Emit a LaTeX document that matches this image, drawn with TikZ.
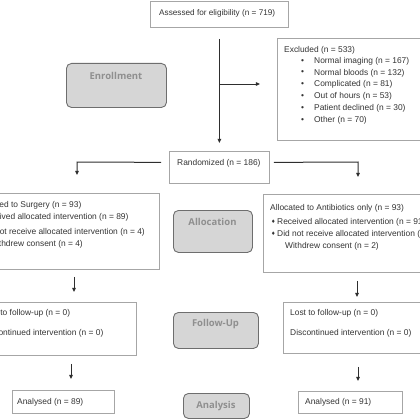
\documentclass[tikz,border=0pt]{standalone}
\usepackage{fontspec}
\setmainfont{Liberation Sans}
\newfontfamily\hdrfont{Open Sans}
\newfontfamily\symfont{DejaVu Sans}
\usetikzlibrary{arrows.meta}
\definecolor{txt}{HTML}{333333}
\definecolor{boxline}{HTML}{A6A6A6}
\definecolor{conn}{HTML}{2E2E2E}
\definecolor{phfill}{HTML}{D6D6D6}
\definecolor{phline}{HTML}{6E6E6E}
\definecolor{phtxt}{HTML}{8F8F8F}
\newcommand{\dmd}{{\symfont\fontsize{5}{5}\selectfont ♦}}
\tikzset{
  box/.style={draw=boxline, line width=0.8pt, inner sep=0pt, anchor=north west},
  phase/.style={draw=phline, fill=phfill, line width=0.9pt, rounded corners=5pt, inner sep=0pt, anchor=north west},
  phlabel/.style={font=\hdrfont\bfseries\fontsize{9.5}{11}\selectfont, text=phtxt, anchor=center, inner sep=0pt},
  lbl/.style={font=\fontsize{8.4}{10}\selectfont, text=txt, anchor=west, inner sep=0pt},
  arr/.style={draw=conn, line width=1pt, -{Triangle[length=4.2pt,width=3.6pt]}},
}
\begin{document}
\begin{tikzpicture}[x=1pt,y=-1pt]
\useasboundingbox (0,0) rectangle (420,420);
\clip (0,0) rectangle (420,420);
% boxes
\node[box, minimum width=138pt, minimum height=25.5pt] (assess) at (150,1.5) {};
\node[lbl, font=\fontsize{8.2}{10}\selectfont] (assesstxt) at (159,13) {Assessed for eligibility (n = 719)};
\node[box, minimum width=146pt, minimum height=102pt] (excl) at (277,38) {};
\node[lbl] (ex0) at (284,50) {Excluded (n = 533)};
\foreach \i/\t/\y in {1/{Normal imaging (n = 167)}/61.2, 2/{Normal bloods (n = 132)}/73, 3/{Complicated (n = 81)}/84.8, 4/{Out of hours (n = 53)}/96.6, 5/{Patient declined (n = 30)}/108.4, 6/{Other (n = 70)}/120.2}{
  \node[lbl] (exb\i) at (301,\y) {•};
  \node[lbl] (ex\i) at (314,\y) {\t};
}
\node[box, minimum width=100pt, minimum height=32pt] (rand) at (169,151) {};
\node[lbl] (randtxt) at (177,163) {Randomized (n = 186)};
% allocation
\node[box, minimum width=191pt, minimum height=76pt] (allocS) at (-32,193) {};
\node[lbl] (s1) at (-26,205) {Allocated to Surgery (n = 93)};
\node[lbl] (s2b) at (-26,217) {\dmd};
\node[lbl] (s2) at (-20,217) {Received allocated intervention (n = 89)};
\node[lbl] (s3b) at (-26,232) {\dmd};
\node[lbl] (s3) at (-20,232) {Did not receive allocated intervention (n = 4)};
\node[lbl] (s4) at (-11,244) {Withdrew consent (n = 4)};
\node[box, minimum width=191pt, minimum height=78pt] (allocA) at (263,194) {};
\node[lbl] (a1) at (270,208) {Allocated to Antibiotics only (n = 93)};
\node[lbl] (a2b) at (271,222) {\dmd};
\node[lbl] (a2) at (277,222) {Received allocated intervention (n = 91)};
\node[lbl] (a3b) at (271,234) {\dmd};
\node[lbl] (a3) at (277,234) {Did not receive allocated intervention (n = 2)};
\node[lbl] (a4) at (285,246) {Withdrew consent (n = 2)};
% follow-up
\node[box, minimum width=161pt, minimum height=53pt] (fuS) at (-25,302) {};
\node[lbl] (f1) at (-18,313) {Lost to follow-up (n = 0)};
\node[lbl] (f2) at (-18,333) {Discontinued intervention (n = 0)};
\node[box, minimum width=161pt, minimum height=51pt] (fuA) at (283,302) {};
\node[lbl] (g1) at (290,313) {Lost to follow-up (n = 0)};
\node[lbl] (g2) at (290,333) {Discontinued intervention (n = 0)};
% analysis
\node[box, minimum width=102pt, minimum height=23pt] (anS) at (12,390) {};
\node[lbl] (anStxt) at (17,402) {Analysed (n = 89)};
\node[box, minimum width=104pt, minimum height=22pt] (anA) at (298,391) {};
\node[lbl] (anAtxt) at (305,402) {Analysed (n = 91)};
% phases
\node[phase, minimum width=100pt, minimum height=44pt] (enr) at (66,63) {};
\node[phlabel] (enrtxt) at (116,76) {Enrollment};
\node[phase, minimum width=79pt, minimum height=42pt] (allocph) at (173,210) {};
\node[phlabel] (allocphtxt) at (212.5,222) {Allocation};
\node[phase, minimum width=85pt, minimum height=36pt] (fuph) at (173,312) {};
\node[phlabel] (fuphtxt) at (215.5,324) {Follow-Up};
\node[phase, minimum width=66pt, minimum height=25pt] (anph) at (183,393) {};
\node[phlabel] (anphtxt) at (216,406) {Analysis};
% connectors
\draw[arr, shorten <=11pt, shorten >=8pt] (assess.south) -- (assess.south |- rand.north);
\coordinate (br) at (219,84);
\draw[arr, shorten >=17pt] (br) -- (br -| excl.west);
\coordinate (cL) at (77,162);
\draw[arr, shorten <=8pt, shorten >=18pt] ([yshift=5pt]rand.west) -- (cL) -- (cL |- allocS.north);
\coordinate (cR) at (358,162);
\draw[arr, shorten <=4pt, shorten >=17pt] ([yshift=5pt]rand.east) -- (cR) -- (cR |- allocA.north);
\coordinate (x1) at (74,0);
\draw[arr, shorten <=7pt, shorten >=10pt] (allocS.south -| x1) -- (fuS.north -| x1);
\coordinate (x2) at (357,0);
\draw[arr, shorten <=8pt, shorten >=5pt] (allocA.south -| x2) -- (fuA.north -| x2);
\coordinate (x3) at (71,0);
\draw[arr, shorten <=8pt, shorten >=11pt] (fuS.south -| x3) -- (anS.north -| x3);
\coordinate (x4) at (358,0);
\draw[arr, shorten <=13pt, shorten >=10pt] (fuA.south -| x4) -- (anA.north -| x4);
\end{tikzpicture}
\end{document}
